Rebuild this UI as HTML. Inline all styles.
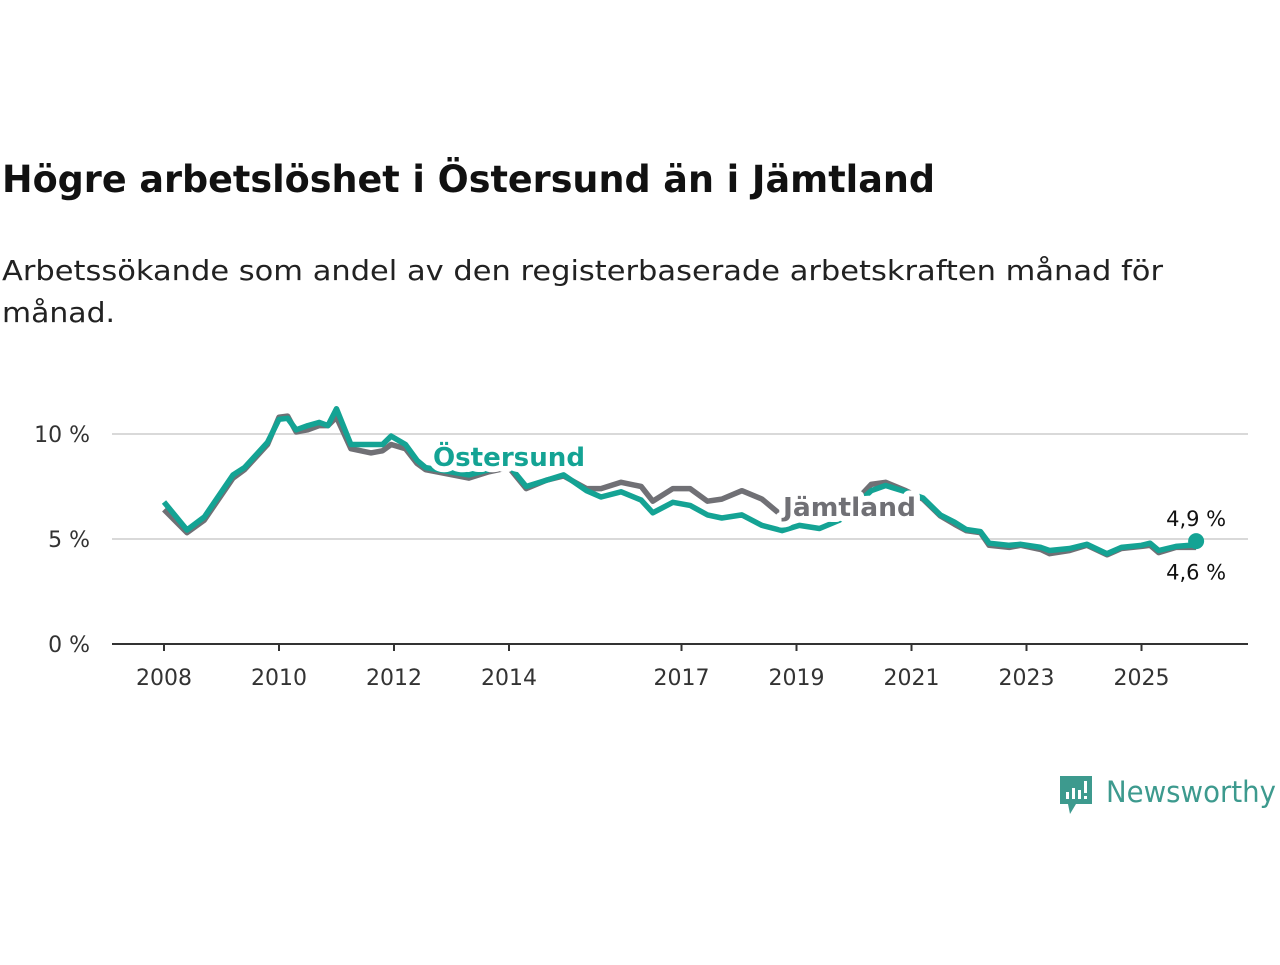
<!DOCTYPE html>
<html><head><meta charset="utf-8"><style>
body{margin:0;background:#fff;}
svg text{font-family:"DejaVu Sans","Liberation Sans",sans-serif;}
</style></head><body>
<svg id="chart" width="1280" height="960" xmlns="http://www.w3.org/2000/svg">
<text x="2" y="192" font-size="37" font-weight="bold" fill="#111" textLength="933" lengthAdjust="spacingAndGlyphs">Högre arbetslöshet i Östersund än i Jämtland</text>
<text x="2" y="280" font-size="28" fill="#222" textLength="1161" lengthAdjust="spacingAndGlyphs">Arbetssökande som andel av den registerbaserade arbetskraften månad för</text>
<text x="2" y="322" font-size="28" fill="#222" textLength="113" lengthAdjust="spacingAndGlyphs">månad.</text>
<g id="axes"></g>
<g id="lines"></g>
<g>
<path d="M1060 776 h32 v28 h-16 l-6 10 l-2 -10 h-8 z" fill="#3d9a8e"/>
<rect x="1066" y="792" width="3" height="7" fill="#fff"/><rect x="1072" y="788" width="3" height="11" fill="#fff"/><rect x="1078" y="790" width="3" height="9" fill="#fff"/><rect x="1084" y="781" width="3" height="12" fill="#fff"/><rect x="1084" y="796" width="3" height="3" fill="#fff"/>
<text x="1106" y="802" font-size="29" fill="#3d9a8e" font-family="Liberation Sans" textLength="170" lengthAdjust="spacingAndGlyphs">Newsworthy</text>
</g>
</svg>
<script>
const years=[2008.0,2008.4,2008.7,2009.2,2009.4,2009.8,2010.0,2010.15,2010.3,2010.5,2010.7,2010.85,2011.0,2011.25,2011.6,2011.8,2011.95,2012.2,2012.4,2012.55,2013.3,2013.65,2014.0,2014.3,2014.65,2014.95,2015.35,2015.6,2015.95,2016.3,2016.5,2016.85,2017.15,2017.45,2017.7,2018.05,2018.4,2018.75,2019.05,2019.4,2019.75,2020.3,2020.55,2020.9,2021.2,2021.5,2021.75,2021.95,2022.2,2022.35,2022.7,2022.9,2023.25,2023.4,2023.75,2024.05,2024.4,2024.65,2025.0,2025.15,2025.3,2025.6,2025.85,2025.95];
const ostersund=[6.76,5.43,6.05,8.05,8.4,9.6,10.7,10.75,10.2,10.4,10.55,10.4,11.2,9.5,9.5,9.5,9.9,9.5,8.75,8.4,8.05,8.3,8.5,7.5,7.8,8.05,7.3,7.0,7.25,6.85,6.25,6.75,6.6,6.15,6.0,6.15,5.65,5.4,5.65,5.5,5.9,7.3,7.55,7.25,6.95,6.15,5.8,5.45,5.35,4.8,4.7,4.75,4.6,4.45,4.55,4.75,4.3,4.6,4.7,4.8,4.45,4.65,4.7,4.9];
const jamtland=[6.4,5.3,5.9,7.9,8.3,9.5,10.8,10.85,10.1,10.2,10.4,10.4,10.8,9.3,9.1,9.2,9.5,9.3,8.6,8.3,7.9,8.2,8.4,7.4,7.8,8.0,7.4,7.4,7.7,7.5,6.8,7.4,7.4,6.8,6.9,7.3,6.9,6.1,6.2,6.0,6.0,7.6,7.7,7.3,6.9,6.1,5.7,5.4,5.3,4.7,4.6,4.7,4.5,4.3,4.45,4.7,4.25,4.55,4.65,4.7,4.35,4.6,4.6,4.6];
const yTicks=[0,5,10];
const yTickLabels=["0 %","5 %","10 %"];
const xTicks=[2008,2010,2012,2014,2017,2019,2021,2023,2025];
const NS="http://www.w3.org/2000/svg";
const xs=y=>164+(y-2008)*57.5;
const ys=v=>644-v*21;
function mk(tag,attrs,parent){const e=document.createElementNS(NS,tag);for(const k in attrs)e.setAttribute(k,attrs[k]);parent.appendChild(e);return e;}
const axes=document.getElementById('axes'),lines=document.getElementById('lines');
yTicks.forEach((t,i)=>{
 if(t>0){const g=mk('line',{x1:112,x2:1248,y1:ys(t),y2:ys(t),stroke:'#d9d9d9','stroke-width':2},axes);
 
 }
 const l=mk('text',{x:90,y:ys(t)+8,'font-size':22,fill:'#333','text-anchor':'end'},axes);l.textContent=yTickLabels[i];
 
 
});
const base=mk('line',{x1:112,x2:1248,y1:644,y2:644,stroke:'#333','stroke-width':2},axes);


xTicks.forEach(t=>{
 mk('line',{x1:xs(t),x2:xs(t),y1:644,y2:651,stroke:'#333','stroke-width':2},axes);
 const l=mk('text',{x:xs(t),y:685,'font-size':22,fill:'#333','text-anchor':'middle'},axes);l.textContent=t;
 
 
});
function path(vals){return vals.map((v,i)=>(i?'L':'M')+xs(years[i]).toFixed(1)+' '+ys(v).toFixed(1)).join(' ');}
const pj=mk('path',{d:path(jamtland),fill:'none',stroke:'#707075','stroke-width':5.5,'stroke-linejoin':'round'},lines);


const po=mk('path',{d:path(ostersund),fill:'none',stroke:'#14a394','stroke-width':5.5,'stroke-linejoin':'round'},lines);


const n=years.length-1;
const dot=mk('circle',{cx:xs(years[n]),cy:ys(ostersund[n]),r:8,fill:'#14a394'},lines);


const l1=mk('text',{x:xs(years[n]),y:ys(ostersund[n])-15,'font-size':21,fill:'#111','text-anchor':'middle'},lines);l1.textContent='4,9 %';


const l2=mk('text',{x:xs(years[n]),y:ys(jamtland[n])+32,'font-size':21,fill:'#111','text-anchor':'middle'},lines);l2.textContent='4,6 %';


const s1=mk('text',{x:433,y:466,'font-size':26,'font-weight':'bold',fill:'#14a394',stroke:'#fff','stroke-width':12,'paint-order':'stroke','stroke-linejoin':'round',textLength:152,lengthAdjust:'spacingAndGlyphs'},lines);s1.textContent='Östersund';


const s2=mk('text',{x:783,y:516,'font-size':26,'font-weight':'bold',fill:'#707075',stroke:'#fff','stroke-width':12,'paint-order':'stroke','stroke-linejoin':'round',textLength:133,lengthAdjust:'spacingAndGlyphs'},lines);s2.textContent='Jämtland';


</script>
</body></html>
